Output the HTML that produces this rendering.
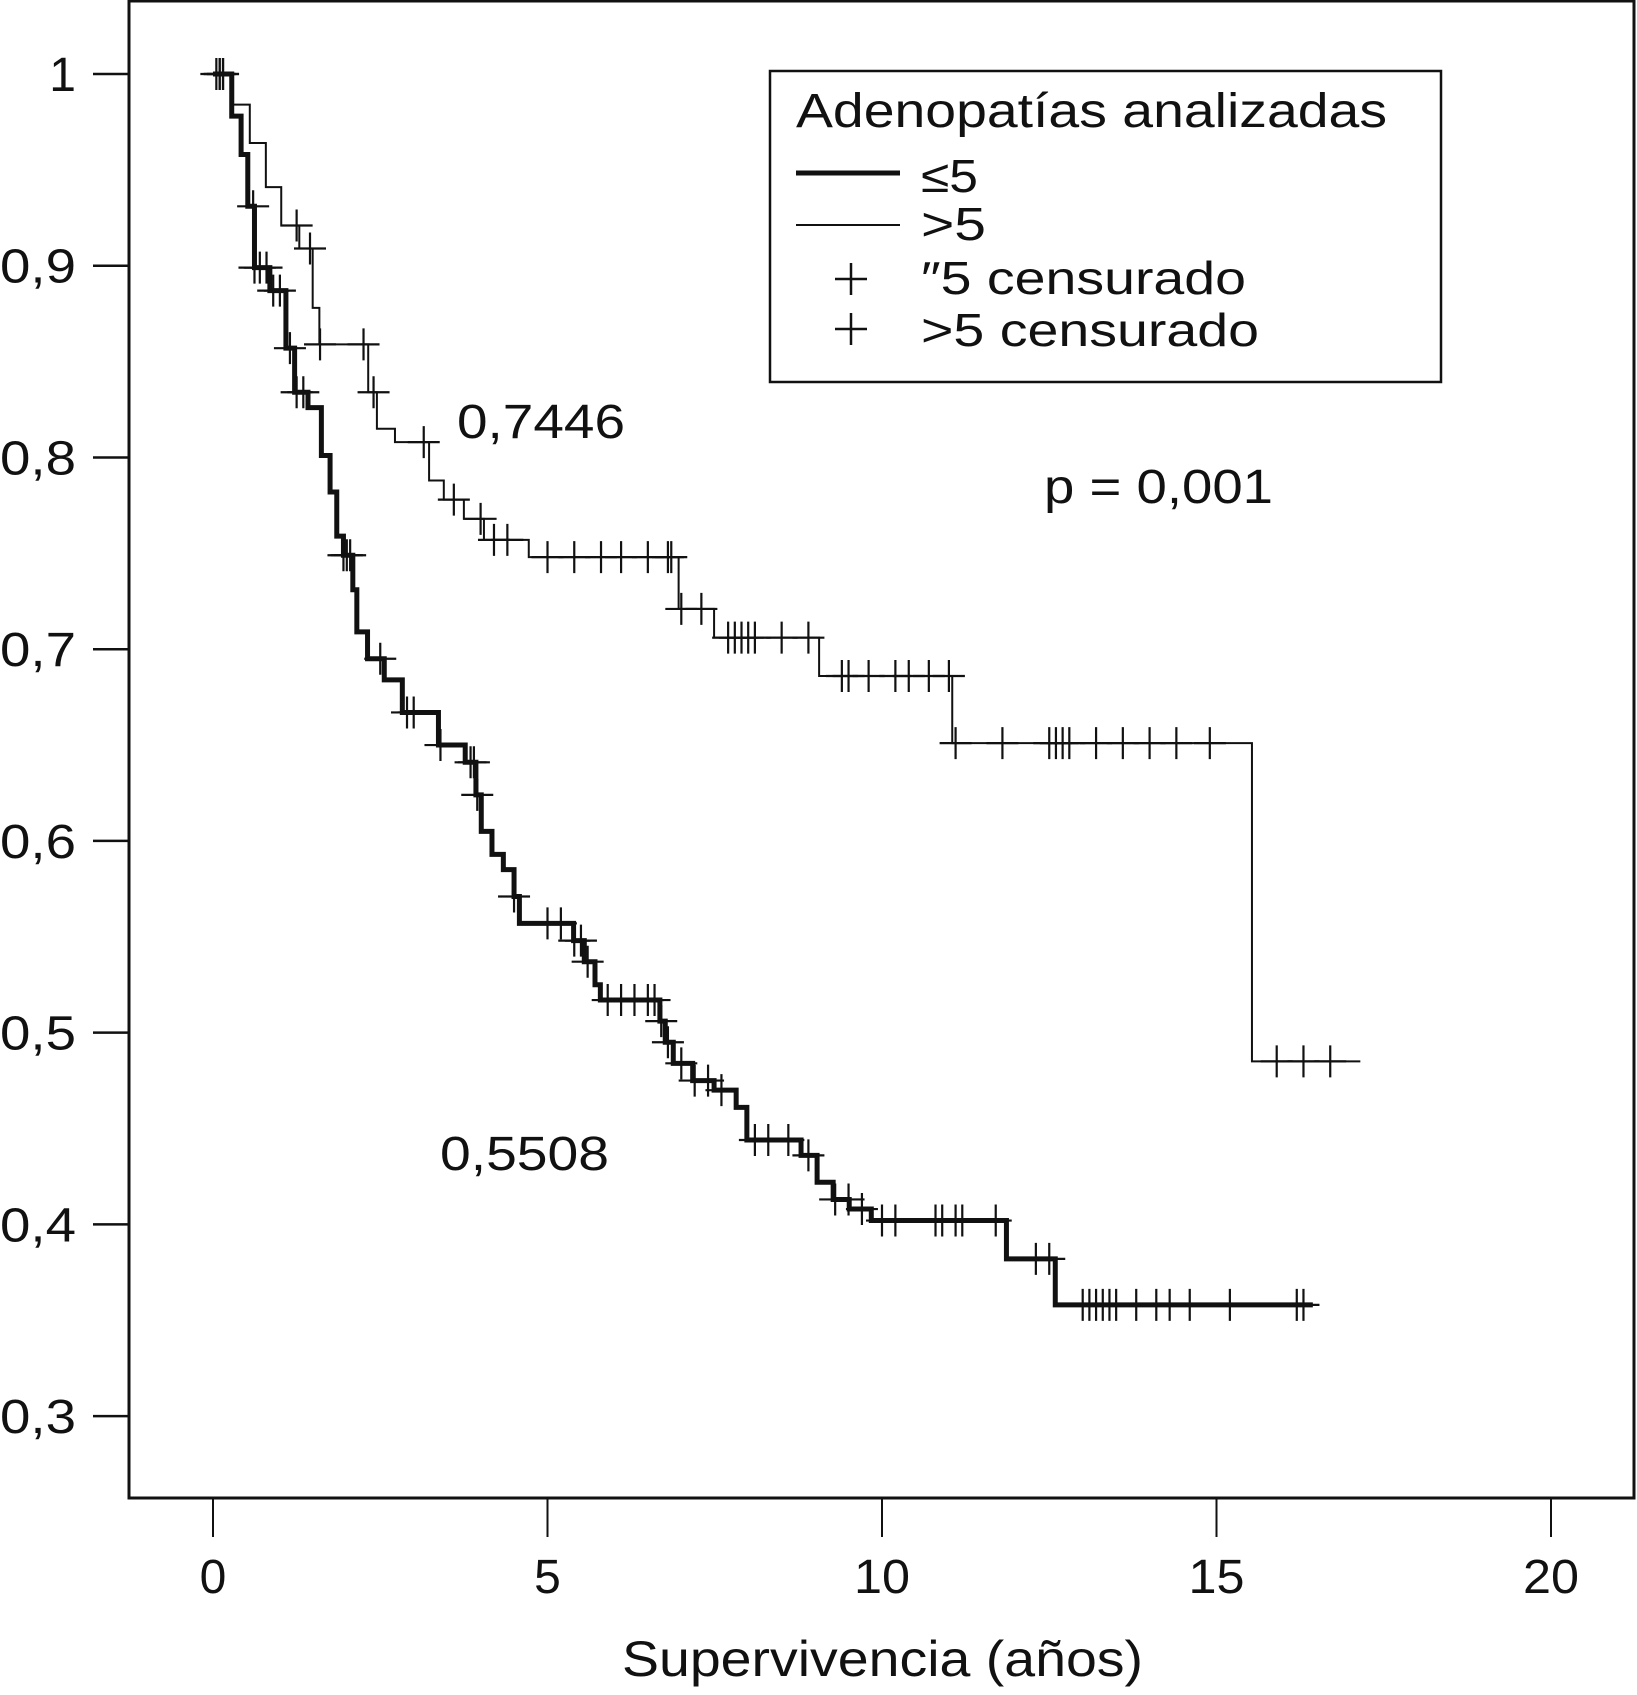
<!DOCTYPE html>
<html><head><meta charset="utf-8"><style>
html,body{margin:0;padding:0;background:#fff;}
svg{display:block;font-family:"Liberation Sans",Arial,sans-serif;}
</style></head><body>
<svg id="chart" width="1637" height="1695" viewBox="0 0 1637 1695" xmlns="http://www.w3.org/2000/svg">
<rect x="129" y="1" width="1505" height="1497" fill="none" stroke="#111" stroke-width="3"/>
<g id="axes"></g>
<g id="marks"></g>
<g>
<rect x="770" y="71" width="671" height="311" fill="#fff" stroke="#111" stroke-width="2.5"/>
<text x="796" y="127" font-size="48" textLength="591" lengthAdjust="spacingAndGlyphs" fill="#111">Adenopatías analizadas</text>
<line x1="796" y1="173" x2="900" y2="173" stroke="#111" stroke-width="5"/>
<text x="921" y="192" font-size="46" textLength="57" lengthAdjust="spacingAndGlyphs" fill="#111">≤5</text>
<line x1="796" y1="225" x2="900" y2="225" stroke="#111" stroke-width="2"/>
<text x="921" y="240" font-size="46" textLength="65" lengthAdjust="spacingAndGlyphs" fill="#111">&gt;5</text>
<path d="M835 279H867M851 263V295" stroke="#111" stroke-width="2.5"/>
<text x="921" y="294" font-size="46" textLength="325" lengthAdjust="spacingAndGlyphs" fill="#111">″5 censurado</text>
<path d="M835 329H867M851 313V345" stroke="#111" stroke-width="2.5"/>
<text x="921" y="346" font-size="46" textLength="338" lengthAdjust="spacingAndGlyphs" fill="#111">&gt;5 censurado</text>
</g>
<text x="457" y="438" font-size="48" textLength="168" lengthAdjust="spacingAndGlyphs" fill="#111">0,7446</text>
<text x="440" y="1170" font-size="48" textLength="169" lengthAdjust="spacingAndGlyphs" fill="#111">0,5508</text>
<text x="1044" y="503" font-size="48" textLength="229" lengthAdjust="spacingAndGlyphs" fill="#111">p = 0,001</text>
<text x="622" y="1676" font-size="50" textLength="521" lengthAdjust="spacingAndGlyphs" fill="#111">Supervivencia (años)</text>
</svg>
<script>
const xTicks=[0,5,10,15,20];
const yTicks=[1,0.9,0.8,0.7,0.6,0.5,0.4,0.3];
const yTickLabels=["1","0,9","0,8","0,7","0,6","0,5","0,4","0,3"];
// ≤5 group step curve
const le5Times=[0,0.28,0.42,0.52,0.62,0.85,1.09,1.22,1.42,1.62,1.75,1.85,1.95,2.09,2.15,2.31,2.56,2.83,3.37,3.77,3.93,4.01,4.17,4.34,4.5,4.58,5.39,5.55,5.71,5.79,6.68,6.76,6.88,7.17,7.49,7.82,7.98,8.79,9.03,9.27,9.51,9.84,11.86,12.59];
const le5Surv=[1,0.978,0.958,0.931,0.899,0.887,0.857,0.834,0.826,0.801,0.782,0.759,0.749,0.731,0.709,0.695,0.684,0.667,0.650,0.641,0.624,0.605,0.593,0.585,0.571,0.557,0.548,0.537,0.525,0.517,0.506,0.495,0.484,0.475,0.470,0.461,0.444,0.436,0.422,0.413,0.408,0.402,0.382,0.358];
const le5End=16.44;
const le5CensorTimes=[0.05,0.1,0.15,0.6,0.62,0.7,0.8,0.9,1.0,1.15,1.25,1.35,1.95,2.0,2.05,2.5,2.9,3.0,3.4,3.85,3.9,3.95,4.5,5.0,5.2,5.4,5.6,5.5,5.9,6.1,6.3,6.5,6.6,6.7,6.8,7.0,7.2,7.4,7.6,8.1,8.3,8.6,8.9,9.3,9.5,9.7,10.0,10.2,10.8,10.9,11.1,11.2,11.7,12.3,12.5,13.0,13.1,13.2,13.3,13.4,13.5,13.8,14.1,14.3,14.6,15.2,16.2,16.3];
// >5 group step curve
const gt5Times=[0,0.3,0.55,0.79,1.02,1.29,1.49,1.59,2.32,2.45,2.72,3.23,3.45,3.75,4.05,4.72,6.96,7.49,9.06,11.05,15.53];
const gt5Surv=[1,0.984,0.964,0.941,0.921,0.909,0.878,0.859,0.834,0.815,0.808,0.788,0.778,0.768,0.757,0.748,0.721,0.706,0.686,0.651,0.485];
const gt5End=17.15;
const gt5CensorTimes=[0.1,0.15,1.25,1.45,1.6,2.25,2.4,3.15,3.6,4.0,4.2,4.4,5.0,5.4,5.8,6.1,6.5,6.8,6.85,7.0,7.3,7.7,7.8,7.9,8.0,8.1,8.5,8.9,9.4,9.5,9.8,10.2,10.4,10.7,11.0,11.1,11.8,12.5,12.6,12.7,12.8,13.2,13.6,14.0,14.4,14.9,15.9,16.3,16.7];

const NS="http://www.w3.org/2000/svg";
const xs=t=>213+66.9*t;
const ys=s=>74+(1-s)*1917.3;
function mk(tag,attrs,parent){const e=document.createElementNS(NS,tag);for(const k in attrs)e.setAttribute(k,attrs[k]);parent.appendChild(e);return e;}
const axes=document.getElementById('axes'),marks=document.getElementById('marks');
xTicks.forEach(v=>{
  const l=mk('line',{x1:xs(v),x2:xs(v),y1:1498,y2:1537,stroke:'#111','stroke-width':2},axes);
  
  
  const t=mk('text',{x:xs(v),y:1593,'font-size':48,'text-anchor':'middle',fill:'#111'},axes);
  if(String(v).length===2){t.setAttribute('textLength',56);t.setAttribute('lengthAdjust','spacingAndGlyphs');}
  t.textContent=v;
  
  
});
yTicks.forEach((v,i)=>{
  const l=mk('line',{x1:93,x2:129,y1:ys(v),y2:ys(v),stroke:'#111','stroke-width':2.5},axes);
  
  
  const lab=yTickLabels[i];
  const t=mk('text',{x:lab.length>1?0:76,y:ys(v)+17,'font-size':48,'text-anchor':lab.length>1?'start':'end',fill:'#111'},axes);
  if(lab.length>1){t.setAttribute('textLength',76);t.setAttribute('lengthAdjust','spacingAndGlyphs');}
  t.textContent=lab;
  
  
});
function survAt(times,surv,t){let s=surv[0];for(let i=0;i<times.length;i++){if(times[i]<=t)s=surv[i];}return s;}
function stepPath(times,surv,end){let d='M'+xs(times[0])+' '+ys(surv[0]);for(let i=1;i<times.length;i++){d+='H'+xs(times[i])+'V'+ys(surv[i]);}d+='H'+xs(end);return d;}
function drawGroup(times,surv,end,cens,w,name){
  const p=mk('path',{d:stepPath(times,surv,end),fill:'none',stroke:'#111','stroke-width':w},marks);
  
  
  cens.forEach(c=>{
    const x=xs(c),y=ys(survAt(times,surv,c));
    const m=mk('path',{d:'M'+(x-16)+' '+y+'H'+(x+16)+'M'+x+' '+(y-16)+'V'+(y+16),stroke:'#111','stroke-width':2.2,fill:'none'},marks);
    
    
  });
}
drawGroup(gt5Times,gt5Surv,gt5End,gt5CensorTimes,2,'gt5');
drawGroup(le5Times,le5Surv,le5End,le5CensorTimes,5,'le5');
</script>
</body></html>
